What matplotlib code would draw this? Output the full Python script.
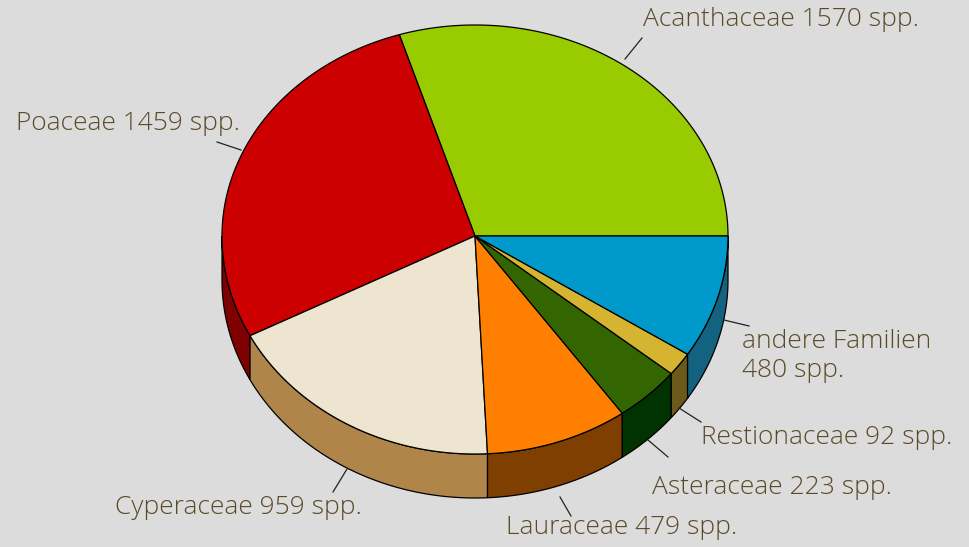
import numpy as np
import matplotlib
matplotlib.use("Agg")
import matplotlib.pyplot as plt
from matplotlib.patches import Polygon

# ---- data ----
families = ["Acanthaceae", "Poaceae", "Cyperaceae", "Lauraceae",
            "Asteraceae", "Restionaceae", "andere Familien"]
species = [1570, 1459, 959, 479, 223, 92, 480]
labels = ["Acanthaceae 1570 spp.", "Poaceae 1459 spp.", "Cyperaceae 959 spp.",
          "Lauraceae 479 spp.", "Asteraceae 223 spp.", "Restionaceae 92 spp.",
          "andere Familien\n480 spp."]
top_colors = ["#99cc00", "#cc0000", "#ede5d0", "#ff8000", "#336600", "#d4b430", "#0099cc"]
side_colors = ["#5c7a00", "#7f0000", "#b0854a", "#7f3f00", "#003300", "#6b5a1a", "#136380"]

# ---- geometry (pixel space) ----
W, H = 970, 547
cx, cy = 475, 236
rx, ry_top, ry_bot = 253, 211, 218
depth = 44
bg = "#dcdcdc"
txt_color = "#5a4a28"

def pt(a_deg, dy=0.0):
    t = np.radians(a_deg)
    s = np.sin(t)
    ry = np.where(s >= 0, ry_top, ry_bot)
    return cx + rx * np.cos(t), cy - ry * s + dy

fig = plt.figure(figsize=(W / 100, H / 100), dpi=100, facecolor=bg)
ax = fig.add_axes([0, 0, 1, 1])
ax.set_xlim(0, W)
ax.set_ylim(H, 0)
ax.axis("off")
ax.set_facecolor(bg)

total = float(sum(species))
angles = np.concatenate([[0], np.cumsum(species) / total * 360.0])

# side walls (front half: 180..360)
for i in range(len(species)):
    a1, a2 = angles[i], angles[i + 1]
    lo, hi = max(a1, 180), min(a2, 360)
    if hi <= lo:
        continue
    ts = np.linspace(lo, hi, 100)
    xt, yt = pt(ts)
    xb, yb = pt(ts[::-1], depth)
    poly = np.column_stack([np.concatenate([xt, xb]), np.concatenate([yt, yb])])
    ax.add_patch(Polygon(poly, closed=True, facecolor=side_colors[i],
                         edgecolor="black", linewidth=0.9, zorder=1))

# top sectors
for i in range(len(species)):
    a1, a2 = angles[i], angles[i + 1]
    ts = np.linspace(a1, a2, 200)
    xs, ys = pt(ts)
    poly = np.column_stack([np.concatenate([[cx], xs]), np.concatenate([[cy], ys])])
    ax.add_patch(Polygon(poly, closed=True, facecolor=top_colors[i],
                         edgecolor="black", linewidth=0.9, zorder=2))

# labels and leader lines (layout positions)
label_layout = [
    # (line start, line end, text x, text y, ha, va)
    ((625, 59), (642, 38), 643, 19, "left", "center"),
    ((217, 142), (241, 150), 240, 124, "right", "center"),
    ((347, 469), (333, 492), 362, 507, "right", "center"),
    ((560, 497), (571, 516), 506, 527, "left", "center"),
    ((648, 440), (668, 457), 652, 487, "left", "center"),
    ((679, 408), (701, 422), 701, 438, "left", "center"),
    ((724, 320), (749, 326), 742, 356, "left", "center"),
]
for lab, (p0, p1, tx, ty, ha, va) in zip(labels, label_layout):
    ax.plot([p0[0], p1[0]], [p0[1], p1[1]], color="#222222", lw=0.9, zorder=3)
    ax.text(tx, ty, lab, ha=ha, va=va, fontsize=19, color=txt_color,
            family=["Open Sans", "DejaVu Sans"], fontweight="light",
            linespacing=1.2, zorder=4)

fig.savefig("out.png", dpi=100, facecolor=bg)
